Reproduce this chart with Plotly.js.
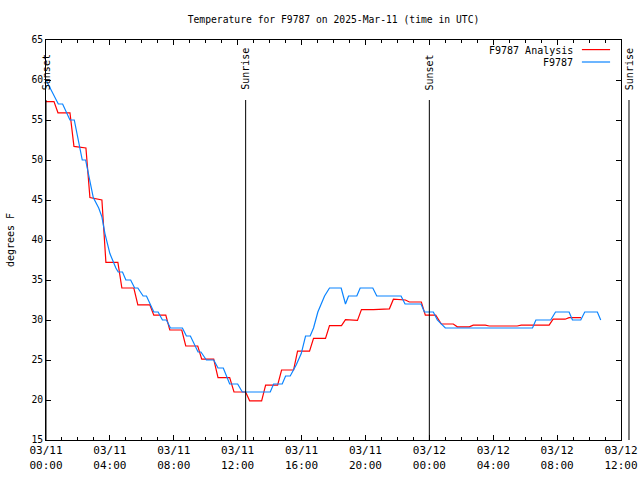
<!DOCTYPE html>
<html>
<head>
<meta charset="utf-8">
<script src="https://cdn.plot.ly/plotly-3.0.1.min.js"></script>
<style>
  html, body { margin: 0; padding: 0; background: #fff; }
  #chart { width: 640px; height: 480px; }
</style>
</head>
<body>
<div id="chart"></div>
<script>
// ---- Data (hours after 2025-03-11 00:00 UTC, degrees F) ----
const analysisHours = [0, 0.5, 0.75, 1.5, 1.75, 2.5, 2.75, 3.5, 3.75, 4.5, 4.75, 5.5, 5.75, 6.5,
  6.75, 7.5, 7.75, 8.5, 8.75, 9.5, 9.75, 10.5, 10.77, 11.5, 11.77, 12.5, 12.75, 13.5, 13.75, 14.5,
  14.75, 15.5, 15.75, 16.5, 16.75, 17.5, 17.75, 18.5, 18.75, 19.5, 19.75, 20.5, 21.5, 21.75, 22.5,
  22.75, 23.5, 23.75, 24.4, 24.6, 24.75, 25.5, 25.75, 26.5, 26.75, 27.5, 27.75, 29.5, 29.75, 31.5,
  31.75, 32.5, 32.75, 33.5];
const analysisTemp = [57.3, 57.3, 55.9, 55.9, 51.7, 51.5, 45.3, 45.0, 37.2, 37.2, 34.0, 34.0, 31.9, 31.9,
  30.6, 30.6, 28.75, 28.75, 26.75, 26.75, 25.1, 25.1, 22.8, 22.8, 21.0, 21.0, 19.9, 19.9, 21.85, 21.85,
  23.75, 23.75, 26.1, 26.1, 27.7, 27.7, 29.3, 29.3, 30.05, 29.95, 31.3, 31.3, 31.4, 32.6, 32.5,
  32.25, 32.25, 30.6, 30.6, 30.0, 29.5, 29.5, 29.15, 29.15, 29.35, 29.35, 29.25, 29.25, 29.35, 29.35,
  30.1, 30.1, 30.3, 30.3];

const obsHours = [0, 0.77, 1.04, 1.5, 1.77, 2.27, 2.48, 2.96, 3.3, 3.5, 3.69, 4.0, 4.375, 4.52, 4.79,
  5.0, 5.3, 5.55, 5.75, 6.08, 6.29, 6.6, 6.75, 7.02, 7.29, 7.54, 7.79, 8.54, 8.79, 9.04, 9.52, 9.7,
  10.04, 10.5, 10.77, 11.1, 11.5, 12.0, 12.29, 14.04, 14.25, 14.79, 15.0, 15.29, 15.67, 15.98, 16.19,
  16.25, 16.54, 16.75, 17.02, 17.44, 17.75, 18.48, 18.75, 18.94, 19.46, 19.67, 20.46, 20.71, 22.23,
  22.48, 23.48, 23.69, 24.25, 24.5, 25.0, 30.46, 30.67, 31.6, 31.9, 32.75, 32.96, 33.48, 33.73,
  34.52, 34.73];
const obsTemp = [60, 57, 57, 55, 55, 50, 50, 45.3, 44, 42.9, 40.8, 38.3, 36.5, 36, 36,
  35, 35, 34, 34, 33, 33, 31.7, 31, 31, 30, 30, 29, 29, 28, 28, 26, 26,
  25, 25, 24, 24, 22, 22, 21, 21, 22, 22, 23, 23, 24.4, 25.8, 27.3,
  28, 28, 29, 31, 33, 34, 34, 32, 33, 33, 34, 34, 33, 33,
  32, 32, 31, 31, 30, 29, 29, 30, 30, 31, 31, 30, 30, 31,
  31, 30];

const sunLabels = ['Sunset', 'Sunrise', 'Sunset', 'Sunrise'];
const sunHours = [0, 12.5, 24, 36.5];

const xStartHours = 0, xEndHours = 36;
const seriesNames = ['F9787 Analysis', 'F9787'];
const seriesColors = ['#ff0000', '#0a84ff'];

// ---- helpers ----
const startUTC = Date.UTC(2025, 2, 11, 0, 0, 0);
function stamp(h) {
  return new Date(startUTC + Math.round(h * 3600000)).toISOString().slice(0, 19).replace('T', ' ');
}
function paperX(h) { return (h - xStartHours) / (xEndHours - xStartHours); }

const mono = 'DejaVu Sans Mono, monospace';

const traces = [
  { x: analysisHours.map(stamp), y: analysisTemp, type: 'scatter', mode: 'lines',
    name: seriesNames[0], line: { color: seriesColors[0], width: 1.2 }, showlegend: false },
  { x: obsHours.map(stamp), y: obsTemp, type: 'scatter', mode: 'lines',
    name: seriesNames[1], line: { color: seriesColors[1], width: 1.2 }, showlegend: false }
];

const shapes = [];
const annotations = [];
sunHours.forEach((h, i) => {
  const px = paperX(h);
  shapes.push({ type: 'line', xref: 'paper', yref: 'paper', x0: px, x1: px, y0: 0, y1: 0.85,
    line: { color: '#000', width: 1 } });
  annotations.push({ text: sunLabels[i], xref: 'paper', yref: 'paper', x: px, y: 0.872,
    xanchor: 'center', yanchor: 'bottom', textangle: -90, showarrow: false,
    font: { family: mono, size: 10, color: '#000' }, borderpad: 0 });
});

// custom gnuplot-style key (text left of sample line)
const keyY = [0.974, 0.943];
seriesNames.forEach((n, i) => {
  annotations.push({ text: n, xref: 'paper', yref: 'paper', x: 0.919, y: keyY[i],
    xanchor: 'right', yanchor: 'middle', showarrow: false,
    font: { family: mono, size: 10, color: '#000' }, borderpad: 0 });
  shapes.push({ type: 'line', xref: 'paper', yref: 'paper', x0: 0.932, x1: 0.981,
    y0: keyY[i] + 0.002, y1: keyY[i] + 0.002, line: { color: seriesColors[i], width: 1.2 } });
});

const layout = {
  width: 640, height: 480,
  margin: { l: 46, r: 19, t: 40, b: 40, pad: 0 },
  paper_bgcolor: '#fff', plot_bgcolor: '#fff',
  font: { family: mono, size: 10, color: '#000' },
  title: { text: 'Temperature for F9787 on 2025-Mar-11 (time in UTC)',
    x: 0.5, xref: 'paper', xanchor: 'center', y: 0.96, yanchor: 'middle',
    font: { family: mono, size: 9.7, color: '#000' } },
  xaxis: {
    type: 'date', range: [stamp(xStartHours), stamp(xEndHours)],
    dtick: 4 * 3600000, tick0: stamp(0), tickformat: '%m/%d<br>%H:%M',
    ticks: 'inside', ticklen: 5, tickcolor: '#000', showline: true, linecolor: '#000', linewidth: 1,
    mirror: 'ticks', showgrid: false, zeroline: false,
    minor: { dtick: 3600000, ticks: 'inside', ticklen: 3, tickcolor: '#000', showgrid: false },
    tickfont: { family: mono, size: 11, color: '#000' }
  },
  yaxis: {
    range: [15, 65], dtick: 5, tick0: 15,
    ticks: 'inside', ticklen: 5, tickcolor: '#000', showline: true, linecolor: '#000', linewidth: 1,
    mirror: 'ticks', showgrid: false, zeroline: false,
    tickfont: { family: mono, size: 9.7, color: '#000' },
    title: { text: 'degrees F', font: { family: mono, size: 10, color: '#000' }, standoff: 14 }
  },
  shapes: shapes,
  annotations: annotations,
  showlegend: false
};

Plotly.newPlot('chart', traces, layout, { displayModeBar: false, staticPlot: true });
</script>
</body>
</html>
